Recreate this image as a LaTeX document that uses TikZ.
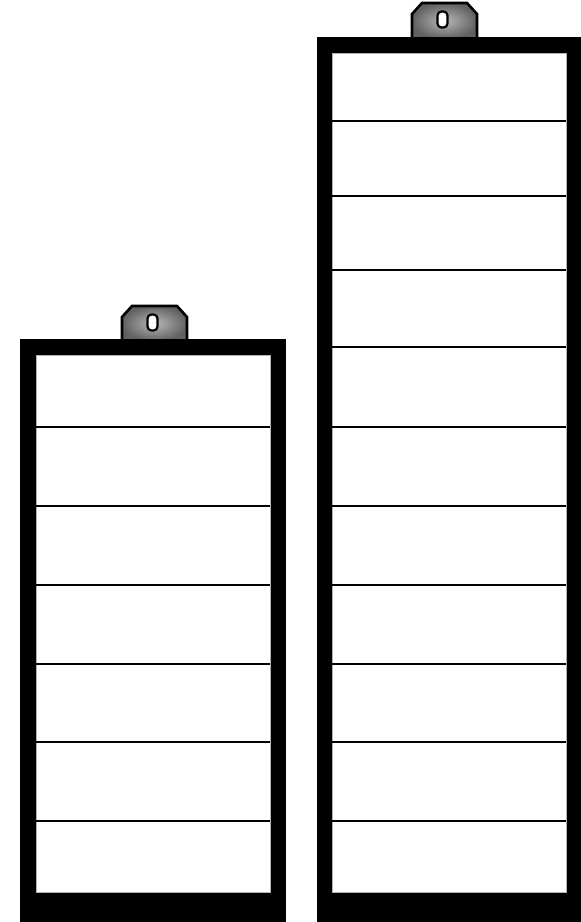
\documentclass[tikz,border=0pt]{standalone}
\begin{document}
\begin{tikzpicture}[x=1pt, y=-1pt,
		tab/.style={draw=black, line width=2.6pt, inner color=black!28, outer color=black!62},
		slot/.style={draw=black, line width=2.2pt, fill=white, rounded corners=4pt},
		cell/.style={draw=black, line width=2.4pt}]
	\useasboundingbox (0,0) rectangle (581,922);
	% tabs on top
	\foreach \l/\t/\b in {122/306/341, 412/3/39} {
			\draw[tab] (\l,\b) -- (\l,\t+11) -- (\l+10,\t) -- (\l+55,\t) -- (\l+65,\t+11) -- (\l+65,\b);
			\draw[slot] (\l+25.5,\t+8.5) rectangle (\l+35.5,\t+24.5);
		}
	% short battery
	\fill[black] (20,339) rectangle (286,925);
	\filldraw[fill=white, draw=gray!60, line width=0.6pt] (36,355) rectangle (270,892);
	\foreach \y in {427, 506, 585, 664, 742, 821}
	\draw[cell] (36,\y) -- (270,\y);
	% tall battery
	\fill[black] (317,37) rectangle (585,925);
	\filldraw[fill=white, draw=gray!60, line width=0.6pt] (332,53) rectangle (566,892);
	\foreach \y in {121, 196, 270, 347, 427, 506, 585, 664, 742, 821}
	\draw[cell] (332,\y) -- (566,\y);
\end{tikzpicture}
\end{document}
